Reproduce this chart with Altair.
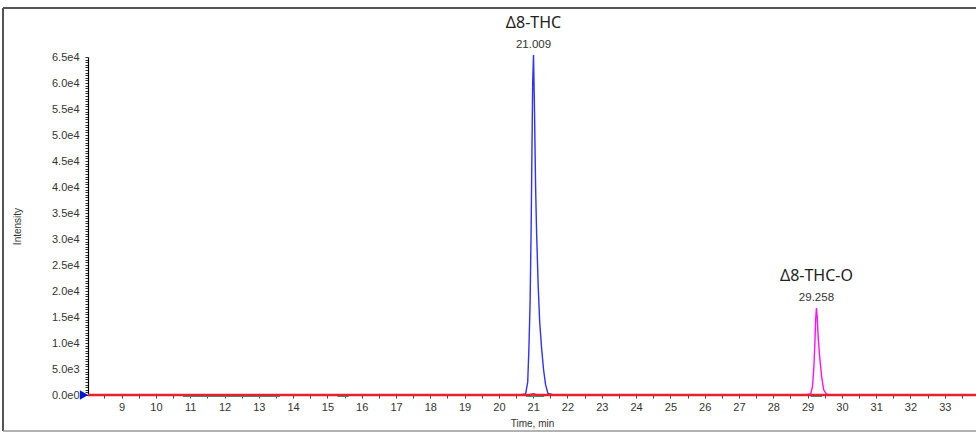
import altair as alt
import pandas as pd

# ---- data ----
blue_t = [20.60, 20.78, 20.84, 20.875, 20.91, 20.94, 20.96, 20.985, 21.009, 21.035,
          21.07, 21.10, 21.146, 21.19, 21.245, 21.30, 21.36, 21.43, 21.60]
blue_i = [0, 200, 2500, 9000, 18000, 32000, 45000, 60000, 65400, 56000,
          40000, 31000, 20800, 14000, 9000, 5000, 2000, 300, 0]

mag_t = [28.90, 29.09, 29.14, 29.18, 29.21, 29.235, 29.258, 29.28, 29.31, 29.35,
         29.41, 29.47, 29.55, 29.70]
mag_i = [0, 200, 1500, 5000, 9500, 14500, 16700, 15000, 11000, 7500,
         3500, 1000, 150, 0]

red_t = [8.02, 20.9, 21.0, 21.1, 33.91]
red_i = [0, 0, 150, 0, 0]

teal_t = [8.02, 10.8, 10.81, 13.6, 13.61, 15.3, 15.31, 15.6, 15.61, 20.8, 20.81, 21.3, 21.31,
          29.1, 29.11, 29.4, 29.41, 33.91]
teal_i = [0, 0, -220, -220, 0, 0, -220, -220, 0, 0, -220, -220, 0,
          0, -220, -220, 0, 0]

peak_t = [21.009, 29.258]
peak_i = [65400, 16700]
peak_name = ["Δ8-THC", "Δ8-THC-O"]
peak_rt = ["21.009", "29.258"]

x_domain = [8.02, 33.91]
y_domain = [0, 65000]
x_tick_values = [v / 2 for v in range(17, 68)]
y_tick_values = list(range(0, 65001, 500))

# ---- tables ----
frames = []
for name, ts, vs in [("teal", teal_t, teal_i), ("blue", blue_t, blue_i),
                     ("magenta", mag_t, mag_i), ("red", red_t, red_i)]:
    frames.append(pd.DataFrame({"t": ts, "I": vs, "series": name}))
traces = pd.concat(frames, ignore_index=True)
peaks = pd.DataFrame({"t": peak_t, "I": peak_i, "name": peak_name, "rt": peak_rt})
origin = pd.DataFrame({"t": [x_domain[0]], "I": [0]})
one = pd.DataFrame({"a": [0]})

x_enc = alt.X("t:Q", title="Time, min",
              scale=alt.Scale(domain=x_domain, nice=False, zero=False),
              axis=alt.Axis(values=x_tick_values, domain=False, grid=False,
                            labelExpr="datum.value % 1 === 0 ? format(datum.value, 'd') : ''",
                            tickSize=3, tickColor="#444", labelFontSize=11,
                            labelColor="#333", labelFont="Liberation Sans",
                            labelPadding=3, labelFlush=False, labelOverlap=False,
                            titleFont="Liberation Sans", titleFontSize=10,
                            titleFontWeight="normal", titleColor="#333",
                            titlePadding=6))
y_enc = alt.Y("I:Q", title="Intensity",
              scale=alt.Scale(domain=y_domain, nice=False),
              axis=alt.Axis(values=y_tick_values, grid=False,
                            labelExpr="datum.value % 5000 === 0 ? replace(format(datum.value, '.1e'), '+', '') : ''",
                            domainColor="#000", domainWidth=1.2,
                            tickSize=3, tickColor="#333", labelFontSize=11,
                            labelColor="#333", labelFont="Liberation Sans",
                            labelPadding=6, labelOverlap=False, labelFlush=False,
                            titleFont="Liberation Sans", titleFontSize=10,
                            titleFontWeight="normal", titleColor="#333",
                            titleAngle=-90, titleX=-71, titleY=169,
                            titleAlign="center", titleBaseline="middle"))

base = alt.Chart(traces).encode(x=x_enc, y=y_enc, order="t:Q")

teal = base.transform_filter("datum.series == 'teal'").mark_line(color="#2a9d8f", strokeWidth=1.5)
blue = base.transform_filter("datum.series == 'blue'").mark_line(color="#3030ff", strokeWidth=1.4)
mag = base.transform_filter("datum.series == 'magenta'").mark_line(color="#ff10ff", strokeWidth=1.4)
red = base.transform_filter("datum.series == 'red'").mark_line(color="#e8202a", strokeWidth=2.4)

arrow = alt.Chart(origin).mark_point(shape="triangle-right", filled=True, color="#0018d0",
                                     size=90, opacity=1, xOffset=-4).encode(x=x_enc, y=y_enc)

rt_text = alt.Chart(peaks).mark_text(font="Liberation Sans", fontSize=11.5, color="#333",
                                     dy=-7, baseline="alphabetic", align="center").encode(
    x=x_enc, y=y_enc, text="rt:N")
name_text = alt.Chart(peaks).mark_text(font="Noto Sans", fontSize=16, color="#222",
                                       dy=-27, baseline="alphabetic", align="center").encode(
    x=x_enc, y=y_enc, text="name:N")

frame_top = alt.Chart(one).mark_rule(color="#555", strokeWidth=2).encode(
    x=alt.value(-85), x2=alt.value(888), y=alt.value(-49))
frame_left = alt.Chart(one).mark_rule(color="#555", strokeWidth=2).encode(
    x=alt.value(-85), y=alt.value(-49), y2=alt.value(374))
frame_bottom = alt.Chart(one).mark_rule(color="#999", strokeWidth=1.5).encode(
    x=alt.value(-85), x2=alt.value(888), y=alt.value(374))

chart = alt.layer(teal, blue, mag, red, arrow, rt_text, name_text,
                  frame_top, frame_left, frame_bottom).properties(
    width=888, height=338,
    autosize=alt.AutoSizeParams(type="none"),
    padding={"left": 88, "top": 57, "right": 0, "bottom": 39},
    background="white",
).configure_view(stroke=None)

chart.save("out.html", embed_options={"renderer": "svg", "actions": False})
